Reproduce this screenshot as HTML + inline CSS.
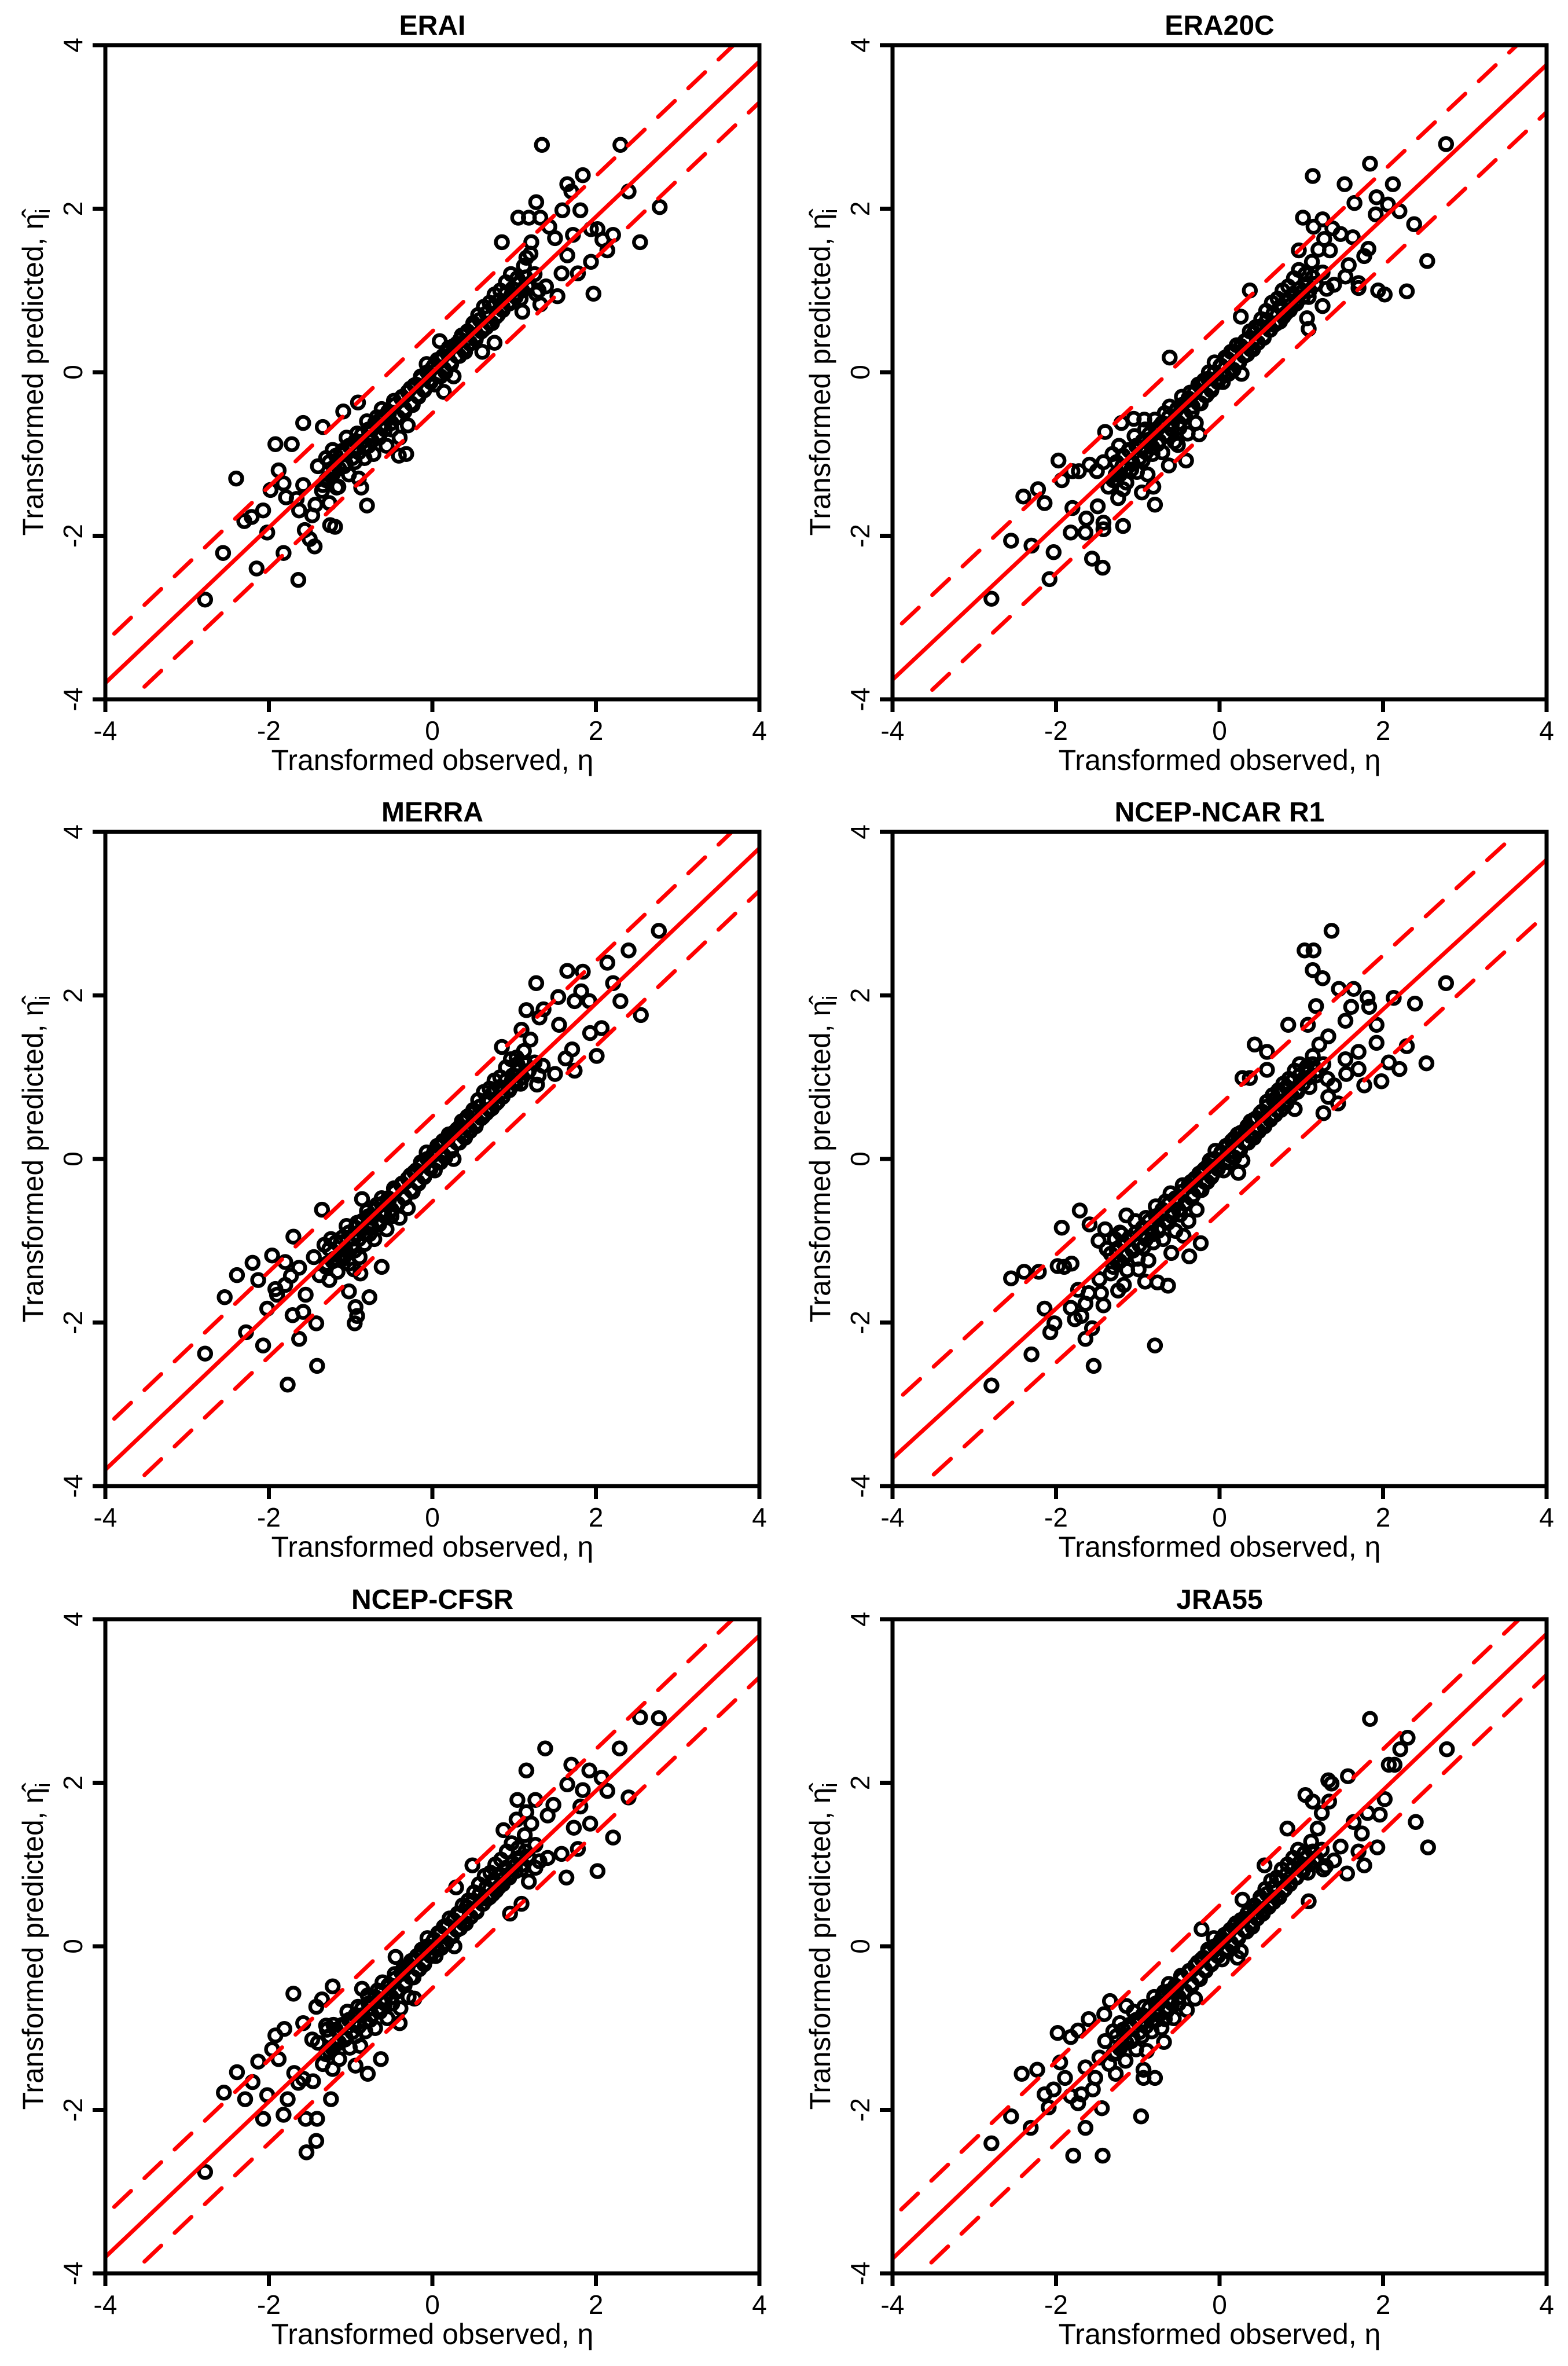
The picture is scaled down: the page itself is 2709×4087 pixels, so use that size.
<!DOCTYPE html>
<html><head><meta charset="utf-8"><style>
html,body{margin:0;padding:0;background:#fff;}
svg{display:block;font-family:"Liberation Sans",Arial,sans-serif;}
</style></head><body>
<svg id="fig" width="2709" height="4087" viewBox="0 0 2709 4087" xmlns="http://www.w3.org/2000/svg"></svg>
<script>
// ---- data (transformed observed x, transformed predicted y) ----
const panelTitles = ["ERAI","ERA20C","MERRA","NCEP-NCAR R1","NCEP-CFSR","JRA55"];
const fitSlopes = [0.95,0.94,0.95,0.915,0.95,0.955];
const bandWidths = [0.5,0.58,0.52,0.66,0.51,0.5];
const tickValues = [-4,-2,0,2,4];
const tickLabels = ["-4","-2","0","2","4"];

// dense central cloud common to all reanalyses
const denseCore = [[-1.30,-1.32],[-1.26,-1.10],[-1.22,-1.25],[-1.18,-1.02],[-1.14,-1.18],[-1.10,-0.96],[-1.06,-1.12],[-1.02,-0.90],[-0.98,-1.05],[-0.94,-0.84],[-0.90,-0.98],[-0.86,-0.76],[-0.82,-0.92],[-0.78,-0.70],[-0.74,-0.84],[-0.70,-0.62],[-0.66,-0.76],[-0.62,-0.55],[-0.58,-0.70],[-0.54,-0.48],[-0.50,-0.62],[-0.46,-0.40],[-0.42,-0.55],[-0.38,-0.32],[-0.34,-0.48],[-0.30,-0.24],[-0.26,-0.38],[-0.22,-0.16],[-0.18,-0.28],[-0.14,-0.08],[-0.10,-0.22],[-0.06,0.00],[-0.02,-0.12],[0.02,0.08],[0.06,-0.04],[0.10,0.16],[0.14,0.04],[0.18,0.25],[0.22,0.12],[0.26,0.32],[0.30,0.20],[0.34,0.40],[0.38,0.28],[0.42,0.48],[0.46,0.36],[0.50,0.56],[0.54,0.44],[0.58,0.64],[0.62,0.52],[0.66,0.72],[0.70,0.60],[0.74,0.80],[0.78,0.68],[0.82,0.88],[0.86,0.76],[0.90,0.96],[0.94,0.84],[0.98,1.02],[1.02,0.92],[1.06,1.08],[1.10,1.00],[1.14,1.16],[1.18,1.08]];

const eraiPoints = [[1.34,2.78],[2.30,2.78],[1.84,2.41],[1.65,2.30],[1.70,2.21],[2.40,2.21],[2.78,2.02],[1.27,2.08],[1.05,1.89],[1.18,1.89],[1.32,1.89],[1.59,1.98],[1.81,1.98],[1.43,1.78],[1.50,1.64],[1.72,1.68],[1.94,1.75],[2.02,1.75],[2.21,1.68],[2.08,1.62],[2.54,1.59],[0.85,1.59],[2.14,1.49],[1.94,1.35],[1.78,1.21],[1.97,0.96],[1.53,0.93],[1.32,0.83],[1.10,0.74],[1.65,1.43],[1.58,1.21],[1.39,1.05],[1.27,0.96],[1.15,1.40],[1.21,1.59],[0.61,0.25],[0.76,0.36],
[-2.78,-2.78],[-2.56,-2.21],[-2.15,-2.40],[-1.64,-2.54],[-1.82,-2.21],[-2.02,-1.96],[-2.30,-1.82],[-2.21,-1.77],[-2.07,-1.69],[-2.40,-1.30],[-1.92,-0.88],[-1.72,-0.88],[-1.58,-0.62],[-1.88,-1.20],[-1.82,-1.36],[-1.98,-1.44],[-1.79,-1.53],[-1.66,-1.55],[-1.63,-1.69],[-1.47,-1.75],[-1.56,-1.93],[-1.50,-2.04],[-1.44,-2.13],[-1.25,-1.87],[-1.19,-1.89],[-1.43,-1.62],[-1.26,-1.60],[-0.80,-1.63],[-0.87,-1.41],[-1.17,-1.41],[-1.34,-1.38],[-1.58,-1.38],[-1.09,-0.48],[-0.91,-0.37],[-1.34,-0.67],[-0.41,-1.02],[-0.32,-1.00],[0.14,-0.24],[0.09,0.38],
[-1.40,-1.15],[-1.35,-1.45],[-1.30,-1.05],[-1.28,-1.30],[-1.22,-0.95],[-1.20,-1.20],[-1.15,-1.40],[-1.12,-1.00],[-1.08,-1.15],[-1.05,-0.80],[-1.02,-1.25],[-0.98,-0.95],[-0.95,-1.10],[-0.92,-0.75],[-0.90,-1.30],[-0.86,-0.85],[-0.83,-1.05],[-0.80,-0.60],[-0.78,-0.90],[-0.74,-0.70],[-0.72,-1.00],[-0.68,-0.55],[-0.65,-0.80],[-0.62,-0.45],[-0.60,-0.65],[-0.56,-0.90],[-0.53,-0.50],[-0.50,-0.70],[-0.47,-0.35],[-0.44,-0.55],[-0.40,-0.80],[-0.37,-0.30],[-0.34,-0.45],[-0.30,-0.65],[-0.27,-0.20],[-0.24,-0.40],[-0.20,-0.15],[-0.17,-0.30],[-0.14,-0.05],[-0.10,-0.20],[-0.07,0.10],[-0.04,-0.10],[0.00,0.05],[0.03,-0.15],[0.06,0.15],[0.10,-0.05],[0.13,0.20],[0.16,0.00],[0.20,0.30],[0.23,0.10],[0.26,-0.05],[0.30,0.35],[0.33,0.20],[0.36,0.45],[0.40,0.25],[0.43,0.50],[0.46,0.35],[0.50,0.60],[0.53,0.40],[0.56,0.70],[0.60,0.50],[0.63,0.80],[0.66,0.55],[0.70,0.85],[0.73,0.60],[0.76,0.95],[0.80,0.70],[0.83,1.00],[0.86,0.80],[0.90,1.10],[0.93,0.85],[0.96,1.20],[1.00,0.95],[1.04,1.15],[1.08,0.90],[1.12,1.30],[1.16,1.05],[1.20,1.45],[1.25,1.20],[1.30,1.00]];

const era20cPoints = [[2.77,2.79],[1.84,2.55],[1.14,2.40],[1.53,2.30],[2.12,2.30],[1.92,2.14],[1.65,2.07],[2.06,2.05],[1.91,1.93],[2.20,1.97],[1.02,1.89],[2.38,1.81],[1.26,1.87],[1.15,1.78],[1.38,1.76],[1.48,1.69],[1.63,1.65],[1.28,1.63],[1.82,1.51],[1.77,1.42],[0.97,1.49],[1.35,1.49],[2.54,1.36],[1.58,1.31],[1.54,1.17],[1.40,1.07],[1.70,1.09],[1.70,1.03],[1.94,1.00],[2.02,0.95],[2.29,0.99],[1.26,0.81],[1.07,0.66],[1.09,0.53],[0.26,0.68],[0.37,1.00],[-0.61,0.18],
[-2.79,-2.77],[-2.55,-2.06],[-2.30,-2.12],[-2.08,-2.53],[-2.03,-2.20],[-2.40,-1.52],[-2.22,-1.43],[-2.14,-1.60],[-1.97,-1.08],[-1.93,-1.32],[-1.80,-1.21],[-1.72,-1.21],[-1.59,-1.13],[-1.50,-1.21],[-1.80,-1.66],[-1.63,-1.79],[-1.82,-1.96],[-1.64,-1.96],[-1.49,-1.64],[-1.42,-1.84],[-1.42,-1.92],[-1.18,-1.88],[-1.56,-2.28],[-1.43,-2.39],[-1.24,-1.54],[-1.18,-1.43],[-0.79,-1.62],[-0.81,-1.40],[-0.95,-1.47],[-0.62,-1.14],[-0.41,-1.08],[-0.51,-0.89],[-1.40,-0.73],[-1.20,-0.62],[-1.05,-0.57],[-0.92,-0.58],[-0.25,-0.76],[-1.26,-1.31],[-1.08,-1.19],
[-1.42,-1.10],[-1.36,-1.40],[-1.31,-1.00],[-1.27,-1.25],[-1.23,-0.90],[-1.19,-1.15],[-1.14,-1.35],[-1.11,-0.95],[-1.07,-1.10],[-1.04,-0.78],[-1.01,-1.22],[-0.97,-0.92],[-0.94,-1.08],[-0.91,-0.70],[-0.88,-1.25],[-0.85,-0.82],[-0.82,-1.00],[-0.79,-0.58],[-0.76,-0.88],[-0.73,-0.66],[-0.70,-0.98],[-0.67,-0.50],[-0.64,-0.78],[-0.61,-0.42],[-0.58,-0.62],[-0.55,-0.85],[-0.52,-0.45],[-0.49,-0.68],[-0.46,-0.30],[-0.43,-0.52],[-0.39,-0.75],[-0.36,-0.25],[-0.33,-0.42],[-0.29,-0.62],[-0.26,-0.15],[-0.23,-0.38],[-0.19,-0.10],[-0.16,-0.28],[-0.13,0.00],[-0.09,-0.18],[-0.06,0.12],[-0.03,-0.08],[0.01,0.08],[0.04,-0.12],[0.07,0.18],[0.11,-0.02],[0.14,0.25],[0.17,0.03],[0.21,0.33],[0.24,0.12],[0.27,-0.02],[0.31,0.38],[0.34,0.22],[0.37,0.50],[0.41,0.28],[0.44,0.55],[0.47,0.36],[0.51,0.65],[0.54,0.42],[0.57,0.75],[0.61,0.52],[0.64,0.85],[0.67,0.58],[0.71,0.90],[0.74,0.62],[0.77,1.00],[0.81,0.72],[0.84,1.05],[0.87,0.82],[0.91,1.15],[0.94,0.88],[0.97,1.25],[1.01,0.98],[1.05,1.20],[1.09,0.92],[1.13,1.35],[1.17,1.08],[1.21,1.50],[1.26,1.22],[1.31,1.02]];

const merraPoints = [[2.77,2.79],[2.40,2.55],[2.14,2.40],[1.65,2.30],[1.84,2.29],[1.27,2.15],[2.21,2.15],[1.54,1.98],[1.82,2.05],[1.74,1.93],[1.92,1.93],[2.30,1.93],[1.15,1.82],[1.36,1.83],[2.55,1.76],[1.31,1.73],[1.55,1.64],[1.93,1.54],[2.07,1.60],[1.09,1.58],[0.85,1.37],[1.71,1.34],[2.01,1.26],[1.63,1.23],[1.74,1.08],[1.50,1.04],[1.28,0.91],[1.35,1.14],[1.03,1.24],
[-2.78,-2.38],[-2.54,-1.69],[-2.39,-1.42],[-2.20,-1.27],[-2.13,-1.48],[-1.96,-1.18],[-2.28,-2.12],[-2.07,-2.28],[-1.77,-2.76],[-1.41,-2.53],[-1.63,-2.20],[-1.42,-2.01],[-1.71,-1.91],[-1.58,-1.87],[-2.02,-1.83],[-1.90,-1.66],[-1.80,-1.54],[-1.92,-1.59],[-1.55,-1.66],[-1.70,-0.95],[-1.80,-1.26],[-1.63,-1.33],[-1.35,-0.62],[-0.95,-2.01],[-0.92,-1.92],[-0.94,-1.81],[-0.77,-1.69],[-1.02,-1.62],[-0.88,-1.40],[-0.62,-1.32],[-0.96,-1.35],[-1.26,-1.48],[-0.86,-0.49],[-1.09,-1.22],[-1.73,-1.43],
[-1.45,-1.20],[-1.38,-1.42],[-1.32,-1.05],[-1.29,-1.28],[-1.24,-0.98],[-1.20,-1.22],[-1.16,-1.38],[-1.12,-1.02],[-1.09,-1.18],[-1.05,-0.82],[-1.02,-1.28],[-0.98,-0.96],[-0.95,-1.12],[-0.92,-0.78],[-0.89,-1.20],[-0.86,-0.86],[-0.83,-1.04],[-0.80,-0.64],[-0.77,-0.92],[-0.74,-0.72],[-0.71,-0.98],[-0.68,-0.56],[-0.65,-0.80],[-0.62,-0.48],[-0.59,-0.66],[-0.56,-0.86],[-0.53,-0.50],[-0.50,-0.70],[-0.47,-0.36],[-0.44,-0.56],[-0.40,-0.72],[-0.37,-0.30],[-0.34,-0.46],[-0.30,-0.60],[-0.27,-0.20],[-0.24,-0.40],[-0.20,-0.14],[-0.17,-0.30],[-0.14,-0.04],[-0.10,-0.20],[-0.07,0.08],[-0.04,-0.10],[0.00,0.04],[0.03,-0.14],[0.06,0.16],[0.10,-0.04],[0.13,0.22],[0.16,0.02],[0.20,0.30],[0.23,0.10],[0.26,0.00],[0.30,0.36],[0.33,0.20],[0.36,0.46],[0.40,0.26],[0.43,0.52],[0.46,0.34],[0.50,0.60],[0.53,0.40],[0.56,0.72],[0.60,0.50],[0.63,0.82],[0.66,0.56],[0.70,0.86],[0.73,0.62],[0.76,0.96],[0.80,0.70],[0.83,1.00],[0.86,0.82],[0.90,1.12],[0.93,0.86],[0.96,1.22],[1.00,0.96],[1.04,1.16],[1.08,0.92],[1.12,1.32],[1.16,1.06],[1.20,1.46],[1.25,1.18],[1.30,1.02]];

const ncepPoints = [[1.37,2.79],[1.04,2.55],[1.15,2.55],[1.14,2.31],[1.26,2.21],[1.46,2.08],[1.64,2.08],[1.81,1.97],[2.13,1.97],[2.77,2.15],[1.18,1.87],[2.39,1.90],[1.83,1.86],[1.61,1.86],[1.54,1.69],[1.92,1.64],[0.84,1.64],[1.08,1.64],[1.33,1.50],[0.43,1.40],[0.58,1.31],[1.92,1.42],[2.29,1.38],[1.70,1.31],[1.54,1.22],[2.53,1.17],[2.07,1.18],[2.20,1.10],[1.70,1.10],[1.55,1.04],[1.98,0.95],[1.77,0.90],[1.40,0.90],[1.33,0.76],[1.45,0.68],[1.27,0.56],[0.28,0.99],[0.37,0.99],[0.58,1.09],[0.92,0.61],
[-2.79,-2.77],[-2.30,-2.39],[-1.54,-2.53],[-0.79,-2.28],[-2.07,-2.12],[-2.02,-2.01],[-1.64,-2.20],[-1.56,-2.07],[-2.14,-1.83],[-1.82,-1.82],[-1.77,-1.96],[-1.69,-1.92],[-1.64,-1.77],[-1.73,-1.60],[-1.60,-1.64],[-1.45,-1.64],[-1.42,-1.79],[-1.47,-1.47],[-2.55,-1.46],[-2.39,-1.38],[-2.21,-1.38],[-1.98,-1.31],[-1.90,-1.32],[-1.81,-1.28],[-1.93,-0.84],[-1.71,-0.63],[-1.59,-0.80],[-1.48,-1.00],[-1.40,-0.86],[-1.24,-1.61],[-1.17,-1.54],[-0.91,-1.50],[-0.76,-1.51],[-0.63,-1.55],[-0.37,-1.19],[-0.23,-1.03],[-0.59,-1.15],[-0.44,-0.94],[0.23,-0.17],[-1.22,-0.90],[-1.14,-0.69],[-0.99,-1.35],[-1.33,-1.16],
[-1.38,-1.10],[-1.33,-1.40],[-1.28,-0.98],[-1.25,-1.25],[-1.20,-0.92],[-1.17,-1.18],[-1.13,-1.36],[-1.10,-0.96],[-1.06,-1.12],[-1.03,-0.76],[-1.00,-1.22],[-0.96,-0.92],[-0.93,-1.08],[-0.90,-0.72],[-0.87,-1.24],[-0.84,-0.84],[-0.81,-1.02],[-0.78,-0.58],[-0.75,-0.88],[-0.72,-0.68],[-0.69,-0.98],[-0.66,-0.52],[-0.63,-0.78],[-0.60,-0.42],[-0.57,-0.64],[-0.54,-0.88],[-0.51,-0.48],[-0.48,-0.68],[-0.45,-0.32],[-0.42,-0.54],[-0.38,-0.76],[-0.35,-0.28],[-0.32,-0.44],[-0.28,-0.62],[-0.25,-0.18],[-0.22,-0.38],[-0.18,-0.12],[-0.15,-0.28],[-0.12,-0.02],[-0.08,-0.18],[-0.05,0.10],[-0.02,-0.08],[0.02,0.06],[0.05,-0.14],[0.08,0.16],[0.12,-0.04],[0.15,0.22],[0.18,0.02],[0.22,0.30],[0.25,0.10],[0.28,-0.02],[0.32,0.36],[0.35,0.20],[0.38,0.46],[0.42,0.26],[0.45,0.50],[0.48,0.34],[0.52,0.58],[0.55,0.40],[0.58,0.70],[0.62,0.48],[0.65,0.78],[0.68,0.54],[0.72,0.84],[0.75,0.60],[0.78,0.92],[0.82,0.68],[0.85,0.98],[0.88,0.78],[0.92,1.08],[0.95,0.82],[0.98,1.16],[1.02,0.92],[1.06,1.12],[1.10,0.88],[1.14,1.26],[1.18,1.02],[1.22,1.40],[1.27,1.16],[1.32,0.98]];

const cfsrPoints = [[2.54,2.80],[2.77,2.79],[1.38,2.42],[2.29,2.42],[1.15,2.15],[1.70,2.22],[1.92,2.15],[2.07,2.06],[1.65,1.98],[1.84,1.91],[2.14,1.90],[2.40,1.82],[1.04,1.79],[1.26,1.79],[1.48,1.73],[1.81,1.71],[1.41,1.60],[1.15,1.64],[1.93,1.50],[1.73,1.45],[2.21,1.33],[0.87,1.42],[1.03,1.55],[1.78,1.19],[2.02,0.92],[1.64,0.84],[1.58,1.13],[1.41,1.08],[1.26,0.96],[1.18,0.79],[1.09,0.52],[0.95,0.40],[0.29,0.72],[0.49,0.99],
[-2.78,-2.76],[-2.55,-1.79],[-2.39,-1.54],[-2.29,-1.87],[-2.20,-1.66],[-2.13,-1.41],[-2.07,-2.11],[-2.02,-1.82],[-1.96,-1.26],[-1.92,-1.09],[-1.81,-1.01],[-1.88,-1.38],[-1.70,-0.58],[-1.82,-2.06],[-1.77,-1.87],[-1.69,-1.55],[-1.64,-1.67],[-1.58,-1.62],[-1.55,-2.11],[-1.41,-2.11],[-1.42,-2.38],[-1.54,-2.52],[-1.46,-1.65],[-1.24,-1.87],[-1.58,-0.94],[-1.47,-1.14],[-1.42,-0.74],[-1.35,-0.65],[-1.22,-0.49],[-1.30,-0.97],[-0.63,-1.38],[-0.79,-1.56],[-0.94,-1.46],[-1.22,-1.50],[-0.40,-0.94],[-0.22,-0.64],[-0.45,-0.13],[-0.86,-0.52],
[-1.40,-1.18],[-1.34,-1.44],[-1.29,-1.02],[-1.26,-1.28],[-1.21,-0.96],[-1.18,-1.20],[-1.14,-1.38],[-1.11,-0.98],[-1.07,-1.14],[-1.04,-0.80],[-1.01,-1.24],[-0.97,-0.94],[-0.94,-1.10],[-0.91,-0.74],[-0.88,-1.22],[-0.85,-0.84],[-0.82,-1.04],[-0.79,-0.60],[-0.76,-0.90],[-0.73,-0.70],[-0.70,-1.00],[-0.67,-0.54],[-0.64,-0.80],[-0.61,-0.44],[-0.58,-0.64],[-0.55,-0.88],[-0.52,-0.48],[-0.49,-0.70],[-0.46,-0.34],[-0.43,-0.54],[-0.39,-0.76],[-0.36,-0.28],[-0.33,-0.44],[-0.29,-0.62],[-0.26,-0.18],[-0.23,-0.38],[-0.19,-0.12],[-0.16,-0.28],[-0.13,-0.04],[-0.09,-0.18],[-0.06,0.10],[-0.03,-0.08],[0.01,0.06],[0.04,-0.12],[0.07,0.16],[0.11,-0.02],[0.14,0.24],[0.17,0.04],[0.21,0.34],[0.24,0.12],[0.27,0.00],[0.31,0.40],[0.34,0.22],[0.37,0.50],[0.41,0.28],[0.44,0.56],[0.47,0.36],[0.51,0.66],[0.54,0.42],[0.57,0.76],[0.61,0.52],[0.64,0.86],[0.67,0.58],[0.71,0.90],[0.74,0.64],[0.77,1.00],[0.81,0.72],[0.84,1.06],[0.87,0.82],[0.91,1.16],[0.94,0.88],[0.97,1.26],[1.01,0.98],[1.05,1.20],[1.09,0.94],[1.13,1.36],[1.17,1.10],[1.21,1.50],[1.26,1.24],[1.31,1.04]];

const jraPoints = [[1.84,2.78],[2.78,2.41],[2.30,2.55],[2.21,2.41],[2.07,2.22],[2.14,2.22],[1.33,2.03],[1.57,2.08],[1.37,1.99],[1.05,1.85],[1.14,1.77],[1.34,1.77],[1.25,1.63],[2.02,1.80],[1.96,1.61],[1.81,1.63],[2.40,1.52],[2.55,1.21],[1.93,1.21],[0.83,1.44],[1.64,1.52],[1.74,1.38],[1.48,1.22],[1.70,1.16],[1.77,0.99],[1.56,0.89],[1.27,0.94],[1.40,1.05],[1.09,0.55],[0.28,0.57],[0.55,0.99],
[-2.79,-2.41],[-2.55,-2.08],[-2.31,-2.22],[-2.42,-1.56],[-2.23,-1.51],[-1.79,-2.56],[-1.43,-2.56],[-0.96,-2.08],[-1.44,-1.98],[-1.64,-2.22],[-1.73,-1.92],[-1.55,-1.75],[-1.69,-1.81],[-1.82,-1.83],[-2.14,-1.81],[-2.03,-1.75],[-2.09,-1.97],[-1.89,-1.61],[-1.95,-1.42],[-1.98,-1.06],[-1.82,-1.11],[-1.73,-1.03],[-1.60,-0.89],[-1.64,-1.48],[-1.52,-1.61],[-1.47,-1.36],[-1.41,-0.83],[-1.34,-0.67],[-0.93,-1.61],[-0.79,-1.61],[-0.93,-1.51],[-1.27,-1.56],[-0.68,-1.17],[-0.67,-0.89],[0.22,-0.14],[-0.22,0.21],[-1.14,-0.73],
[-1.40,-1.16],[-1.35,-1.44],[-1.30,-1.04],[-1.27,-1.30],[-1.22,-0.94],[-1.19,-1.20],[-1.15,-1.40],[-1.12,-1.00],[-1.08,-1.16],[-1.05,-0.80],[-1.02,-1.26],[-0.98,-0.94],[-0.95,-1.10],[-0.92,-0.74],[-0.89,-1.28],[-0.86,-0.86],[-0.83,-1.04],[-0.80,-0.62],[-0.77,-0.90],[-0.74,-0.70],[-0.71,-1.00],[-0.68,-0.56],[-0.65,-0.80],[-0.62,-0.46],[-0.59,-0.66],[-0.56,-0.88],[-0.53,-0.50],[-0.50,-0.70],[-0.47,-0.36],[-0.44,-0.56],[-0.40,-0.78],[-0.37,-0.30],[-0.34,-0.46],[-0.30,-0.64],[-0.27,-0.20],[-0.24,-0.40],[-0.20,-0.14],[-0.17,-0.30],[-0.14,-0.04],[-0.10,-0.20],[-0.07,0.10],[-0.04,-0.10],[0.00,0.04],[0.03,-0.16],[0.06,0.14],[0.10,-0.06],[0.13,0.20],[0.16,0.00],[0.20,0.28],[0.23,0.10],[0.26,-0.06],[0.30,0.34],[0.33,0.18],[0.36,0.44],[0.40,0.24],[0.43,0.50],[0.46,0.34],[0.50,0.60],[0.53,0.40],[0.56,0.70],[0.60,0.48],[0.63,0.80],[0.66,0.54],[0.70,0.84],[0.73,0.60],[0.76,0.94],[0.80,0.70],[0.83,1.00],[0.86,0.78],[0.90,1.08],[0.93,0.84],[0.96,1.18],[1.00,0.94],[1.04,1.14],[1.08,0.90],[1.12,1.28],[1.16,1.04],[1.20,1.44],[1.25,1.18],[1.30,0.98]];

const allPoints = [eraiPoints, era20cPoints, merraPoints, ncepPoints, cfsrPoints, jraPoints];

// ---- layout ----
const NS = "http://www.w3.org/2000/svg";
const svg = document.getElementById('fig');
const colX = [182, 1542];
const rowY = [78, 1437, 2797];
const SIZE = 1130;

function mk(tag, attrs, parent) {
  const e = document.createElementNS(NS, tag);
  for (const k in attrs) e.setAttribute(k, attrs[k]);
  parent.appendChild(e);
  return e;
}

allPoints.forEach((pts, p) => {
  const L = colX[p % 2], T = rowY[Math.floor(p / 2)];
  const sx = v => L + (v + 4) / 8 * SIZE;
  const sy = v => T + SIZE - (v + 4) / 8 * SIZE;
  const g = mk('g', {}, svg);
  
  

  const clip = mk('clipPath', {id: 'clip' + p}, g);
  mk('rect', {x: L, y: T, width: SIZE, height: SIZE}, clip);

  // points
  const pg = mk('g', {fill: 'none', stroke: '#000', 'stroke-width': 6.5}, g);
  
  
  pts.concat(denseCore).forEach(d => {
    const c = mk('circle', {cx: sx(d[0]).toFixed(1), cy: sy(d[1]).toFixed(1), r: 10.5}, pg);
    
    
  });

  // fit lines
  const b = fitSlopes[p], w = bandWidths[p];
  const lg = mk('g', {'clip-path': 'url(#clip' + p + ')', stroke: '#ff0000', 'stroke-width': 7, 'stroke-linecap': 'round', fill: 'none'}, g);
  
  
  const off = [0, w, -w];
  off.forEach((o, i) => {
    const ln = mk('line', {x1: sx(-5), y1: sy(-5 * b + o), x2: sx(5), y2: sy(5 * b + o)}, lg);
    if (i > 0) ln.setAttribute('stroke-dasharray', '40 32');
    
    
  });

  // frame
  const fr = mk('rect', {x: L, y: T, width: SIZE, height: SIZE, fill: 'none', stroke: '#000', 'stroke-width': 7}, g);
  
  

  // ticks + labels
  tickValues.forEach((v, i) => {
    const tx = mk('line', {x1: sx(v), y1: T + SIZE, x2: sx(v), y2: T + SIZE + 22, stroke: '#000', 'stroke-width': 7}, g);
    
    
    const lx = mk('text', {x: sx(v), y: T + SIZE + 70, 'text-anchor': 'middle', 'font-size': 46}, g);
    lx.textContent = tickLabels[i];
    
    
    const ty = mk('line', {x1: L - 22, y1: sy(v), x2: L, y2: sy(v), stroke: '#000', 'stroke-width': 7}, g);
    
    
    const ly = mk('text', {x: 0, y: 0, 'text-anchor': 'middle', 'font-size': 46, transform: 'translate(' + (L - 40) + ',' + sy(v) + ') rotate(-90)'}, g);
    ly.textContent = tickLabels[i];
    
    
  });

  const title = mk('text', {x: L + SIZE / 2, y: T - 18, 'text-anchor': 'middle', 'font-size': 48, 'font-weight': 'bold'}, g);
  title.textContent = panelTitles[p];
  
  

  const xt = mk('text', {x: L + SIZE / 2, y: T + SIZE + 122, 'text-anchor': 'middle', 'font-size': 50}, g);
  xt.textContent = 'Transformed observed, \u03B7';
  
  

  const yt = mk('text', {x: 0, y: 0, 'text-anchor': 'middle', 'font-size': 50, transform: 'translate(' + (L - 108) + ',' + (T + SIZE / 2) + ') rotate(-90)'}, g);
  
  
  const t1 = mk('tspan', {}, yt); t1.textContent = 'Transformed predicted, \u03B7\u0302';
  const t2 = mk('tspan', {dy: 12, 'font-size': 36}, yt); t2.textContent = 'i';
});
</script>
</body></html>
